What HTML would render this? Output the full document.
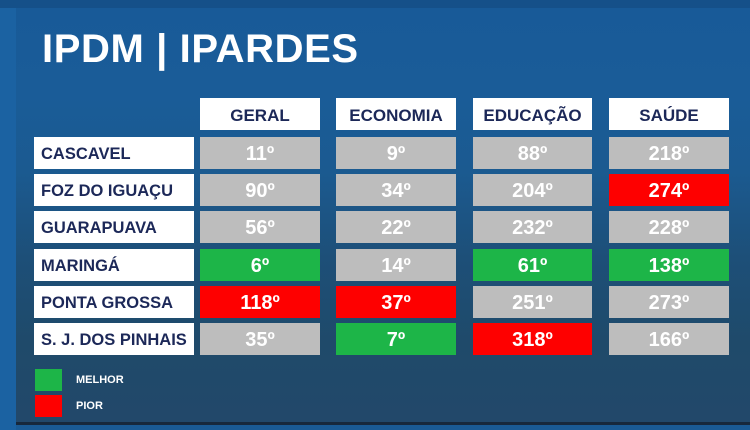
<!DOCTYPE html>
<html><head><meta charset="utf-8"><style>
*{margin:0;padding:0;box-sizing:border-box}
body{width:750px;height:430px;overflow:hidden;position:relative;font-family:"Liberation Sans",Arial,sans-serif;font-weight:bold;
background:linear-gradient(180deg,#185a98 0%,#1a5c98 22%,#1b5a90 40%,#1d4f78 60%,#1f4a6a 80%,#22486a 98%);}
.strip{position:absolute;left:0;top:0;width:16px;height:430px;background:#1b62a2}
.topb{position:absolute;left:0;top:0;width:750px;height:8px;background:#155089}
.botl{position:absolute;left:16px;top:422px;width:734px;height:3px;background:#17283c}
.bot{position:absolute;left:16px;top:425px;width:734px;height:5px;background:#1a5a94}
.title{position:absolute;left:42px;top:27px;color:#fff;font-size:40px;letter-spacing:0.6px}
.c{position:absolute;height:32px;display:flex;align-items:center;justify-content:center;padding-top:3px}
.h{background:#fff;color:#1c2858;font-size:17px}
.n{background:#fff;color:#1c2858;font-size:16.5px;justify-content:flex-start;padding-left:7px;left:34px;width:160px}
.v{color:#fff;font-size:20px;background:#bdbdbd}
.g{background:#1db548}.r{background:#fe0000}
.lg{position:absolute;left:35px;width:27px;height:22px}
.lt{position:absolute;left:76px;color:#fff;font-size:11px}
</style></head><body>
<div class="strip"></div><div class="topb"></div>
<div class="title">IPDM | IPARDES</div>
<div class="c h" style="left:200px;top:98px;width:120px">GERAL</div>
<div class="c h" style="left:336px;top:98px;width:120px">ECONOMIA</div>
<div class="c h" style="left:473px;top:98px;width:119px">EDUCAÇÃO</div>
<div class="c h" style="left:609px;top:98px;width:120px">SAÚDE</div>

<div class="c n" style="top:137px">CASCAVEL</div>
<div class="c n" style="top:174px">FOZ DO IGUAÇU</div>
<div class="c n" style="top:211px">GUARAPUAVA</div>
<div class="c n" style="top:249px">MARINGÁ</div>
<div class="c n" style="top:286px">PONTA GROSSA</div>
<div class="c n" style="top:323px">S. J. DOS PINHAIS</div>

<div class="c v" style="left:200px;top:137px;width:120px">11º</div>
<div class="c v" style="left:336px;top:137px;width:120px">9º</div>
<div class="c v" style="left:473px;top:137px;width:119px">88º</div>
<div class="c v" style="left:609px;top:137px;width:120px">218º</div>

<div class="c v" style="left:200px;top:174px;width:120px">90º</div>
<div class="c v" style="left:336px;top:174px;width:120px">34º</div>
<div class="c v" style="left:473px;top:174px;width:119px">204º</div>
<div class="c v r" style="left:609px;top:174px;width:120px">274º</div>

<div class="c v" style="left:200px;top:211px;width:120px">56º</div>
<div class="c v" style="left:336px;top:211px;width:120px">22º</div>
<div class="c v" style="left:473px;top:211px;width:119px">232º</div>
<div class="c v" style="left:609px;top:211px;width:120px">228º</div>

<div class="c v g" style="left:200px;top:249px;width:120px">6º</div>
<div class="c v" style="left:336px;top:249px;width:120px">14º</div>
<div class="c v g" style="left:473px;top:249px;width:119px">61º</div>
<div class="c v g" style="left:609px;top:249px;width:120px">138º</div>

<div class="c v r" style="left:200px;top:286px;width:120px">118º</div>
<div class="c v r" style="left:336px;top:286px;width:120px">37º</div>
<div class="c v" style="left:473px;top:286px;width:119px">251º</div>
<div class="c v" style="left:609px;top:286px;width:120px">273º</div>

<div class="c v" style="left:200px;top:323px;width:120px">35º</div>
<div class="c v g" style="left:336px;top:323px;width:120px">7º</div>
<div class="c v r" style="left:473px;top:323px;width:119px">318º</div>
<div class="c v" style="left:609px;top:323px;width:120px">166º</div>

<div class="lg" style="top:369px;background:#1db548"></div>
<div class="lg" style="top:395px;background:#fe0000"></div>
<div class="lt" style="top:374px">MELHOR</div>
<div class="lt" style="top:400px">PIOR</div>
<div class="botl"></div><div class="bot"></div>
</body></html>
